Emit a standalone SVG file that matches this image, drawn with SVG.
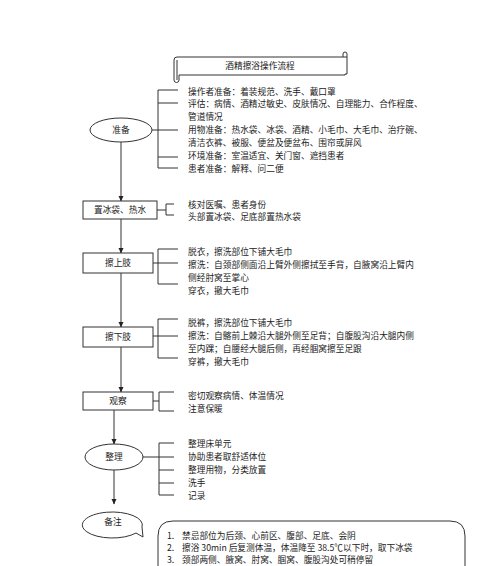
<svg xmlns="http://www.w3.org/2000/svg" width="500" height="566" viewBox="0 0 500 566">
<style>
.ln{stroke:#333;stroke-width:1;fill:none}
.nd{stroke:#333;stroke-width:1;fill:#fff}
text{font-family:"Noto Sans CJK SC","Liberation Serif",serif;font-size:8.7px;fill:#222}
.c{text-anchor:middle}
</style>
<defs>
<marker id="ar" markerWidth="6" markerHeight="6" refX="5" refY="3" orient="auto" markerUnits="userSpaceOnUse">
<path d="M0,0.5 L5.5,3 L0,5.5 z" fill="#222"/>
</marker>
</defs>
<rect width="500" height="566" fill="#fff"/>

<g id="title">
<path class="nd" d="M177,57 H343 V54 a2,2 0 0 1 4,0 V74 H345 V75 H179 V80 a2.5,2.5 0 0 1 -5,0 V60 a3,3 0 0 1 3,-3 z"/>
<path class="ln" d="M343,57 H347 M177,60 V80"/>
<text class="c" x="260" y="69">酒精擦浴操作流程</text>
</g>

<g id="connectors">
<line class="ln" x1="121" y1="142" x2="121" y2="201" marker-end="url(#ar)"/>
<line class="ln" x1="121" y1="219" x2="121" y2="253" marker-end="url(#ar)"/>
<line class="ln" x1="121" y1="273" x2="121" y2="327" marker-end="url(#ar)"/>
<line class="ln" x1="121" y1="347" x2="121" y2="392" marker-end="url(#ar)"/>
<line class="ln" x1="114" y1="410" x2="114" y2="444" marker-end="url(#ar)"/>
<line class="ln" x1="114" y1="470" x2="114" y2="504" marker-end="url(#ar)"/>
<path class="ln" d="M152,130 H178 M178,90 H158 V168 H178 M158,103 H178 M158,157 H178"/>
<path class="ln" d="M157,210 H166 M174,204 H166 V215 H174"/>
<path class="ln" d="M153,263 H178 M178,249 H158 V284 H178"/>
<path class="ln" d="M153,336 H178 M178,319 H158 V358 H178"/>
<path class="ln" d="M153,401 H159 M174,392 H159 V411 H174"/>
<path class="ln" d="M143,457 H174 M174,443 H159 V495 H174 M159,470 H174 M159,483 H174"/>
</g>

<g id="n-prepare">
<ellipse class="nd" cx="121" cy="130" rx="31" ry="12"/>
<text class="c" x="121" y="133">准备</text>
</g>
<g id="t-prepare">
<text x="188" y="95">操作者准备：着装规范、洗手、戴口罩</text>
<text x="188" y="107">评估：病情、酒精过敏史、皮肤情况、自理能力、合作程度、</text>
<text x="188" y="120">管道情况</text>
<text x="188" y="133">用物准备：热水袋、冰袋、酒精、小毛巾、大毛巾、治疗碗、</text>
<text x="188" y="146">清洁衣裤、被服、便盆及便盆布、围帘或屏风</text>
<text x="188" y="159">环境准备：室温适宜、关门窗、遮挡患者</text>
<text x="188" y="172">患者准备：解释、问二便</text>
</g>

<g id="n-ice">
<rect class="nd" x="83" y="201" width="74" height="18"/>
<text class="c" x="120" y="213">置冰袋、热水</text>
</g>
<g id="t-ice">
<text x="188" y="208">核对医嘱、患者身份</text>
<text x="188" y="220">头部置冰袋、足底部置热水袋</text>
</g>

<g id="n-upper">
<rect class="nd" x="83" y="253" width="70" height="20"/>
<text class="c" x="118" y="266">擦上肢</text>
</g>
<g id="t-upper">
<text x="188" y="255">脱衣，擦洗部位下铺大毛巾</text>
<text x="188" y="268">擦洗：自颈部侧面沿上臂外侧擦拭至手背，自腋窝沿上臂内</text>
<text x="188" y="281">侧经肘窝至掌心</text>
<text x="188" y="294">穿衣，撤大毛巾</text>
</g>

<g id="n-lower">
<rect class="nd" x="83" y="327" width="70" height="20"/>
<text class="c" x="118" y="340">擦下肢</text>
</g>
<g id="t-lower">
<text x="188" y="326">脱裤，擦洗部位下铺大毛巾</text>
<text x="188" y="339">擦洗：自髂前上棘沿大腿外侧至足背；自腹股沟沿大腿内侧</text>
<text x="188" y="352">至内踝；自腰经大腿后侧，再经腘窝擦至足跟</text>
<text x="188" y="365">穿裤，撤大毛巾</text>
</g>

<g id="n-observe">
<rect class="nd" x="83" y="392" width="70" height="18"/>
<text class="c" x="118" y="404">观察</text>
</g>
<g id="t-observe">
<text x="188" y="399">密切观察病情、体温情况</text>
<text x="188" y="412">注意保暖</text>
</g>

<g id="n-tidy">
<ellipse class="nd" cx="114" cy="457" rx="29" ry="13"/>
<text class="c" x="114" y="460">整理</text>
</g>
<g id="t-tidy">
<text x="188" y="447">整理床单元</text>
<text x="188" y="460">协助患者取舒适体位</text>
<text x="188" y="473">整理用物，分类放置</text>
<text x="188" y="486">洗手</text>
<text x="188" y="499">记录</text>
</g>

<g id="n-note">
<path class="nd" d="M143,537 L136,533 A30,13 0 1 1 142,527 Z"/>
<text class="c" x="113" y="525">备注</text>
</g>
<g id="t-note">
<path class="nd" d="M158,570 V536 Q158,521 173,521 H450 Q465,521 465,536 V570"/>
<text x="167" y="539">1.</text><text x="182" y="539">禁忌部位为后颈、心前区、腹部、足底、会阴</text>
<text x="167" y="551">2.</text><text x="182" y="551">擦浴 30min 后复测体温，体温降至 38.5℃以下时，取下冰袋</text>
<text x="167" y="563">3.</text><text x="182" y="563">颈部两侧、腋窝、肘窝、腘窝、腹股沟处可稍停留</text>
</g>
</svg>
